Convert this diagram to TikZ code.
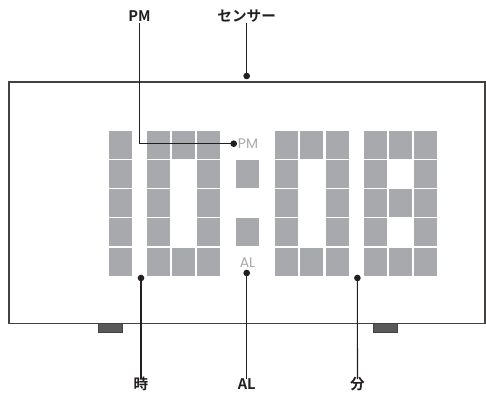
\documentclass[tikz,border=0pt]{standalone}
\usepackage{fontspec}
\setsansfont{Poppins}
\newfontfamily\jp{Noto Sans CJK JP}[BoldFont={Noto Sans CJK JP Bold}]
\usetikzlibrary{calc}
\definecolor{seg}{RGB}{167,169,172}
\definecolor{ln}{RGB}{35,31,32}
\definecolor{foot}{RGB}{88,89,91}
\newcommand{\px}{0.0264583cm}
\tikzset{x=\px,y=-\px,
 segm/.style={fill=seg,draw=none},
 lead/.style={draw=ln,line width=0.8pt},
 dotm/.style={circle,fill=ln,inner sep=0pt,minimum size=5pt},
 lab/.style={font=\jp\bfseries\fontsize{11pt}{13pt}\selectfont,text=ln,inner sep=0pt,text height=7.5pt,text depth=0.9pt},
 lcd/.style={font=\sffamily\fontsize{10.5pt}{12pt}\selectfont,text=seg,inner sep=0pt}}
\begin{document}
\begin{tikzpicture}
\useasboundingbox (0,0) rectangle (486,394);
\draw[draw=ln!85,line width=0.85pt] (9,82) rectangle (485,323.5);
\draw[draw=ln!85,fill=foot,line width=0.6pt] (98,323.5) rectangle (122,332);
\draw[draw=ln!85,fill=foot,line width=0.6pt] (373.5,323.5) rectangle (397.5,332);
% segments: col x list / row
\foreach \cx/\w/\rows in {109/23/{1,2,3,4,5},147/23/{1,2,3,4,5},172/23/{1,5},197/23/{1,2,3,4,5},
 275/23/{1,2,3,4,5},300/23/{1,5},326/23/{1,2,3,4,5},
 364/23/{1,2,3,4,5},389/23/{1,3,5},414/23/{1,2,3,4,5},236/23/{2,4}}{
  \foreach \r in \rows {
    \ifcase\r\or\def\ya{131}\def\yb{159}\or\def\ya{160}\def\yb{188}\or\def\ya{189}\def\yb{217}\or\def\ya{218}\def\yb{246}\or\def\ya{248}\def\yb{276}\fi
    \fill[segm] (\cx,\ya) rectangle ({\cx+\w},\yb);
  }
}
\node[lcd] (pmt) at (248,144) {PM};
\node[lcd] (alt) at (247.5,263) {AL};
\node[lab] (pm) at (139.5,17.5) {PM};
\node[lab] (sen) at (246.7,17.5) {センサー};
\node[lab] (hr) at (141,385) {時};
\node[lab] (al) at (246.7,385) {AL};
\node[lab] (mn) at (357.5,385) {分};
\node[dotm] (dpm) at (233.7,143.7) {};
\node[dotm] (dsen) at (246.7,76) {};
\node[dotm] (dhr) at (141,278) {};
\node[dotm] (dal) at (246.7,273) {};
\node[dotm] (dmn) at (357.4,278) {};
\draw[lead] (dpm.center) -| (pm.south);
\draw[lead] (dsen.center) -- (sen.south);
\draw[lead] (dhr.center) -- (hr.north);
\draw[lead] (dal.center) -- (al.north);
\draw[lead] (dmn.center) -- (mn.north);
\end{tikzpicture}
\end{document}
